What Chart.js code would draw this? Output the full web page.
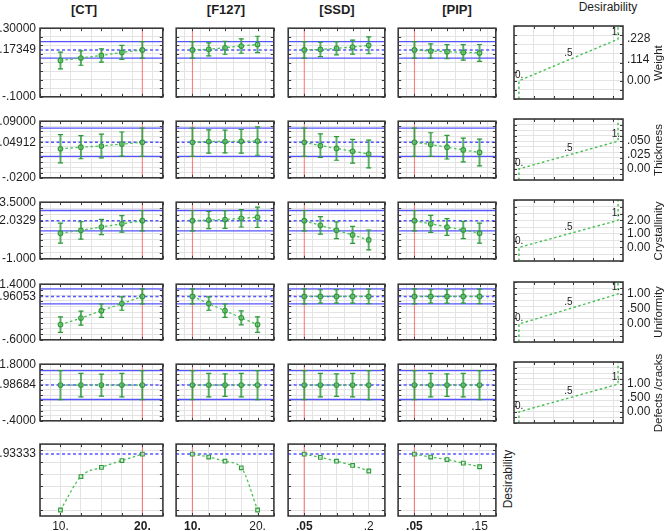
<!DOCTYPE html>
<html>
<head>
<meta charset="utf-8">
<script src="https://cdn.jsdelivr.net/npm/chart.js@4.4.1/dist/chart.umd.min.js"></script>
<style>
  body { margin: 0; background: #fff; width: 666px; height: 531px; position: relative; overflow: hidden;
         font-family: "Liberation Sans", Arial, sans-serif; }
  canvas { position: absolute; }
  .t { position: absolute; white-space: nowrap; color: #1e1e1e; }
</style>
</head>
<body>
<script>
// factor levels (x axes)
var factorNames = ["[CT]", "[F127]", "[SSD]", "[PIP]"];
var ctLevels = [10, 12.5, 15, 17.5, 20];
var f127Levels = [10, 12.5, 15, 17.5, 20];
var ssdLevels = [0.05, 0.0875, 0.125, 0.1625, 0.2];
var pipLevels = [0.05, 0.075, 0.1, 0.125, 0.15];
var currentSettings = [20, 10, 0.05, 0.05];
var levelText = [["10.", "20."], ["10.", "20."], [".05", ".2"], [".05", ".15"]];

// responses (rows)
var responseNames = ["Weight", "Thickness", "Crystallinity", "Uniformity", "Defects /cracks"];
var currentValues = [0.17349, 0.04912, 2.0329, 0.96053, 0.98684];
var currentText = [".17349", ".04912", "2.0329", ".96053", ".98684"];
var ciLow = [0.125, 0.0215, 1.22, 0.69, 0.427];
var ciHigh = [0.222, 0.0767, 2.84, 1.23, 1.547];
var axisMin = [-0.1, -0.02, -1, -0.6, -0.4];
var axisMax = [0.3, 0.09, 3.5, 1.4, 1.8];
var minText = ["-.1000", "-.0200", "-1.000", "-.6000", "-.4000"];
var maxText = [".30000", ".09000", "3.5000", "1.4000", "1.8000"];
var gridStep = [0.05, 0.01, 0.5, 0.2, 0.2];

// predicted means per factor: [CT, F127, SSD, PIP]
var weightMean = [
  [0.112, 0.126, 0.141, 0.159, 0.1735],
  [0.1735, 0.177, 0.186, 0.196, 0.205],
  [0.1735, 0.176, 0.183, 0.19, 0.2],
  [0.1735, 0.167, 0.163, 0.159, 0.156]
];
var weightErr = [
  [0.049, 0.042, 0.039, 0.041, 0.0485],
  [0.0485, 0.038, 0.038, 0.042, 0.048],
  [0.0485, 0.042, 0.038, 0.041, 0.049],
  [0.0485, 0.042, 0.041, 0.045, 0.049]
];
var thickMean = [
  [0.0364, 0.0395, 0.0418, 0.0455, 0.0491],
  [0.0491, 0.0505, 0.0505, 0.0509, 0.0513],
  [0.0491, 0.0425, 0.0371, 0.0316, 0.0262],
  [0.0491, 0.0446, 0.0395, 0.0341, 0.0293]
];
var thickErr = [
  [0.0275, 0.0225, 0.023, 0.0235, 0.0275],
  [0.0275, 0.0225, 0.022, 0.023, 0.0275],
  [0.0275, 0.023, 0.023, 0.023, 0.027],
  [0.0275, 0.023, 0.023, 0.023, 0.026]
];
var crystMean = [
  [1.04, 1.26, 1.53, 1.78, 2.03],
  [2.03, 2.08, 2.12, 2.22, 2.3],
  [2.03, 1.66, 1.27, 0.9, 0.5],
  [2.03, 1.78, 1.53, 1.29, 1.04]
];
var crystErr = [
  [0.8, 0.69, 0.61, 0.66, 0.81],
  [0.81, 0.68, 0.7, 0.69, 0.81],
  [0.81, 0.7, 0.66, 0.68, 0.79],
  [0.81, 0.68, 0.66, 0.68, 0.8]
];
var uniMean = [
  [-0.053, 0.18, 0.447, 0.703, 0.9605],
  [0.9605, 0.703, 0.447, 0.19, -0.053],
  [0.9605, 0.9605, 0.9605, 0.9605, 0.9605],
  [0.9605, 0.9605, 0.9605, 0.9605, 0.9605]
];
var uniErr = [
  [0.28, 0.25, 0.24, 0.24, 0.27],
  [0.27, 0.24, 0.24, 0.25, 0.28],
  [0.27, 0.24, 0.24, 0.24, 0.26],
  [0.27, 0.24, 0.24, 0.24, 0.26]
];
var defMean = [
  [0.98684, 0.98684, 0.98684, 0.98684, 0.98684],
  [0.98684, 0.98684, 0.98684, 0.98684, 0.98684],
  [0.98684, 0.98684, 0.98684, 0.98684, 0.98684],
  [0.98684, 0.98684, 0.98684, 0.98684, 0.98684]
];
var defErr = [
  [0.56, 0.46, 0.43, 0.46, 0.56],
  [0.56, 0.46, 0.44, 0.46, 0.56],
  [0.56, 0.46, 0.44, 0.46, 0.56],
  [0.56, 0.46, 0.44, 0.46, 0.56]
];

// desirability functions (right column)
var dLow = [0, 0, 0, 0, 0];
var dHigh = [0.228, 0.05, 2.0, 1.0, 1.0];
var dTicks = [[0.228, 0.114, 0], [0.05, 0.025, 0], [2, 1, 0], [1, 0.5, 0], [1, 0.5, 0]];
var dTickText = [[".228", ".114", "0.00"], [".050", ".025", "0.00"], ["2.00", "1.00", "0.00"],
                 ["1.00", ".500", "0.00"], ["1.00", ".500", "0.00"]];

// overall desirability profiles (bottom row)
var desirCT = [0, 0.559, 0.712, 0.826, 0.9333];
var desirF127 = [0.9333, 0.884, 0.814, 0.705, 0];
var desirSSD = [0.9333, 0.879, 0.814, 0.744, 0.651];
var desirPIP = [0.9333, 0.884, 0.842, 0.782, 0.722];
var overallD = 0.93333;

var levels = [ctLevels, f127Levels, ssdLevels, pipLevels];
var means = [weightMean, thickMean, crystMean, uniMean, defMean];
var errs = [weightErr, thickErr, crystErr, uniErr, defErr];
var desir = [desirCT, desirF127, desirSSD, desirPIP];

// panel boxes
var colX = [[40, 165], [174, 276], [286, 387], [396, 498], [514, 623]];
var rowY = [[26, 99], [119, 180], [200, 261], [282, 342], [362, 423], [442, 516]];

var FONT = '"Liberation Sans", Arial, sans-serif';
var green = '#2e9a3a';
var dotGreen = '#46c052';
var blue = '#5555ff';
var red = 'rgba(255,70,70,0.7)';

function seq(a, b, step) {
  var out = [], n = Math.round((b - a) / step);
  for (var i = 0; i <= n; i++) out.push(+(a + i * step).toFixed(6));
  return out;
}
function pts(xs, ys) {
  return xs.map(function (x, i) { return { x: x, y: ys[i] }; });
}

// frame + little inside tick marks
Chart.register({
  id: 'frame',
  afterDraw: function (chart) {
    var a = chart.chartArea, ctx = chart.ctx, xs = chart.scales.x, ys = chart.scales.y;
    ctx.save();
    ctx.strokeStyle = '#3a3a3a';
    ctx.lineWidth = 1;
    ctx.beginPath();
    xs.ticks.forEach(function (t) {
      var px = Math.round(xs.getPixelForValue(t.value)) + 0.5;
      ctx.moveTo(px, a.top); ctx.lineTo(px, a.top + 3);
      ctx.moveTo(px, a.bottom); ctx.lineTo(px, a.bottom - 3);
    });
    ys.ticks.forEach(function (t) {
      var py = Math.round(ys.getPixelForValue(t.value)) + 0.5;
      ctx.moveTo(a.left, py); ctx.lineTo(a.left + 3, py);
      ctx.moveTo(a.right, py); ctx.lineTo(a.right - 3, py);
    });
    ctx.stroke();
    ctx.lineWidth = 1.6;
    ctx.strokeRect(a.left, a.top, a.right - a.left, a.bottom - a.top);
    ctx.restore();
  }
});

function textPlugin(items) {
  return {
    id: 'panelText',
    afterDraw: function (chart) {
      var ctx = chart.ctx, a = chart.chartArea, xs = chart.scales.x, ys = chart.scales.y;
      ctx.save();
      ctx.fillStyle = '#1e1e1e';
      items.forEach(function (it) {
        ctx.font = (it.bold ? 'bold ' : '') + it.size + 'px ' + FONT;
        var px, py;
        if (it.side === 'left') {
          px = a.left - 4; py = ys.getPixelForValue(it.y);
          ctx.textAlign = 'right'; ctx.textBaseline = 'middle';
        } else if (it.side === 'right') {
          px = a.right + 4; py = ys.getPixelForValue(it.y);
          ctx.textAlign = 'left'; ctx.textBaseline = 'middle';
        } else if (it.side === 'bottom') {
          px = xs.getPixelForValue(it.x); py = a.bottom + 11;
          ctx.textAlign = 'center'; ctx.textBaseline = 'middle';
        } else {
          px = xs.getPixelForValue(it.x) + it.dx; py = ys.getPixelForValue(it.y) + it.dy;
          ctx.textAlign = it.align; ctx.textBaseline = 'bottom';
        }
        ctx.fillText(it.text, px, py);
      });
      ctx.restore();
    }
  };
}

function makeChart(c, r, xMin, xMax, xTicks, yMin, yMax, yTicks, datasets, items) {
  var ML = c === 0 ? 44 : 3, MR = c === 4 ? 46 : 3, MT = 3, MB = r === 5 ? 20 : 3;
  var w = colX[c][1] - colX[c][0], h = rowY[r][1] - rowY[r][0];
  var cv = document.createElement('canvas');
  cv.width = w + ML + MR; cv.height = h + MT + MB;
  cv.style.left = (colX[c][0] - ML) + 'px';
  cv.style.top = (rowY[r][0] - MT) + 'px';
  cv.style.width = cv.width + 'px'; cv.style.height = cv.height + 'px';
  document.body.appendChild(cv);
  var axis = function (min, max, ticks) {
    return {
      type: 'linear', min: min, max: max, offset: false,
      afterBuildTicks: function (s) { s.ticks = ticks.map(function (v) { return { value: v }; }); },
      ticks: { display: false },
      grid: { color: '#e3e3e3', lineWidth: 1, drawTicks: false },
      border: { display: false }
    };
  };
  new Chart(cv, {
    type: 'scatter',
    data: { datasets: datasets },
    options: {
      responsive: false, animation: false, events: [],
      layout: { padding: { left: ML, right: MR, top: MT, bottom: MB } },
      plugins: { legend: { display: false }, tooltip: { enabled: false } },
      scales: { x: axis(xMin, xMax, xTicks), y: axis(yMin, yMax, yTicks) }
    },
    plugins: [textPlugin(items)]
  });
}

function hLine(x0, x1, y, color, dash, width) {
  return { type: 'line', data: [{ x: x0, y: y }, { x: x1, y: y }], borderColor: color,
           borderWidth: width, borderDash: dash, pointRadius: 0 };
}

// profile panels
for (var c = 0; c < 4; c++) {
  var lv = levels[c];
  var step = lv[1] - lv[0];
  var xMin = lv[0] - step, xMax = lv[4] + step;
  var xTicks = seq(xMin, xMax, step);
  var cur = currentSettings[c];
  for (var r = 0; r < 6; r++) {
    var ds, items = [], yMin, yMax, yTicks;
    if (r < 5) {
      yMin = axisMin[r]; yMax = axisMax[r]; yTicks = seq(yMin, yMax, gridStep[r]);
      var m = means[r][c], e = errs[r][c];
      ds = [
        { type: 'scatter', data: pts(lv, m), pointStyle: 'circle', pointRadius: 2.3,
          borderColor: green, backgroundColor: 'rgba(110,195,110,0.5)', borderWidth: 1.1 },
        { type: 'scatter', data: pts(lv, m.map(function (v, i) { return v + e[i]; })),
          pointStyle: 'line', pointRadius: 2.6, borderColor: green, borderWidth: 1.2 },
        { type: 'scatter', data: pts(lv, m.map(function (v, i) { return v - e[i]; })),
          pointStyle: 'line', pointRadius: 2.6, borderColor: green, borderWidth: 1.2 },
        { type: 'bar', data: lv.map(function (x, i) { return { x: x, y: [m[i] - e[i], m[i] + e[i]] }; }),
          backgroundColor: 'rgba(46,154,58,0.8)', barThickness: 1.3, borderWidth: 0 },
        { type: 'line', data: pts(lv, m), borderColor: dotGreen, borderWidth: 1.3,
          borderDash: [2.5, 2.5], pointRadius: 0 },
        hLine(xMin, xMax, currentValues[r], blue, [3, 2.5], 1.5),
        hLine(xMin, xMax, ciHigh[r], blue, [], 1.3),
        hLine(xMin, xMax, ciLow[r], blue, [], 1.3),
        { type: 'line', data: [{ x: cur, y: yMin }, { x: cur, y: yMax }], borderColor: red,
          borderWidth: 1.1, pointRadius: 0 }
      ];
      if (c === 0) {
        items.push({ side: 'left', y: yMax, text: maxText[r], size: 12 });
        items.push({ side: 'left', y: currentValues[r], text: currentText[r], size: 12 });
        items.push({ side: 'left', y: yMin, text: minText[r], size: 12 });
      }
    } else {
      yMin = -0.1; yMax = 1.1; yTicks = seq(0, 1, 0.2);
      ds = [
        { type: 'line', data: pts(lv, desir[c]), borderColor: dotGreen, borderWidth: 1.3,
          borderDash: [2.5, 2.5], cubicInterpolationMode: 'monotone', pointStyle: 'rect', pointRadius: 2.6,
          pointBorderColor: green, pointBackgroundColor: 'rgba(215,240,215,0.6)', pointBorderWidth: 1.1 },
        hLine(xMin, xMax, overallD, blue, [3, 2.5], 1.5),
        { type: 'line', data: [{ x: cur, y: yMin }, { x: cur, y: yMax }], borderColor: red,
          borderWidth: 1.1, pointRadius: 0 }
      ];
      if (c === 0) items.push({ side: 'left', y: overallD, text: ".93333", size: 12 });
      items.push({ side: 'bottom', x: lv[0], text: levelText[c][0], size: 12, bold: lv[0] === cur });
      items.push({ side: 'bottom', x: lv[4], text: levelText[c][1], size: 12, bold: lv[4] === cur });
    }
    makeChart(c, r, xMin, xMax, xTicks, yMin, yMax, yTicks, ds, items);
  }
}

// desirability function panels
for (var r2 = 0; r2 < 5; r2++) {
  var lo = axisMin[r2], hi = axisMax[r2];
  var ds2 = [
    { type: 'line', data: [{ x: 0, y: lo }, { x: 0, y: dLow[r2] }, { x: 1, y: dHigh[r2] }, { x: 1, y: hi }],
      borderColor: dotGreen, borderWidth: 1.4, borderDash: [2.5, 2.5], pointRadius: 0 }
  ];
  var it2 = [
    { x: 0, y: dLow[r2], dx: -4, dy: -1, align: 'left', text: "0.", size: 10 },
    { x: 0.5, y: (dLow[r2] + dHigh[r2]) / 2, dx: 0, dy: -2, align: 'center', text: ".5", size: 10 },
    { x: 1, y: dHigh[r2], dx: 2, dy: -2, align: 'right', text: "1.", size: 10 }
  ];
  dTicks[r2].forEach(function (v, i) { it2.push({ side: 'right', y: v, text: dTickText[r2][i], size: 12 }); });
  makeChart(4, r2, -0.05, 1.05, [0.15, 0.35, 0.55, 0.75, 0.95], lo, hi, seq(lo, hi, gridStep[r2]), ds2, it2);
}

// titles and row names
function addText(text, x, y, css, rot) {
  var d = document.createElement('div');
  d.className = 't';
  d.textContent = text;
  d.style.cssText += css;
  d.style.left = x + 'px';
  d.style.top = y + 'px';
  d.style.transform = 'translate(-50%,-50%)' + (rot ? ' rotate(-90deg)' : '');
  document.body.appendChild(d);
}
var titleX = [84, 226, 337, 457];
factorNames.forEach(function (n, i) { addText(n, titleX[i], 9, 'font-weight:bold;font-size:13px;'); });
addText("Desirability", 608, 7, 'font-size:12px;');
responseNames.forEach(function (n, i) {
  addText(n, 658, (rowY[i][0] + rowY[i][1]) / 2, 'font-size:11.5px;', true);
});
addText("Desirability", 508, 479, 'font-size:12px;', true);
</script>
</body>
</html>
